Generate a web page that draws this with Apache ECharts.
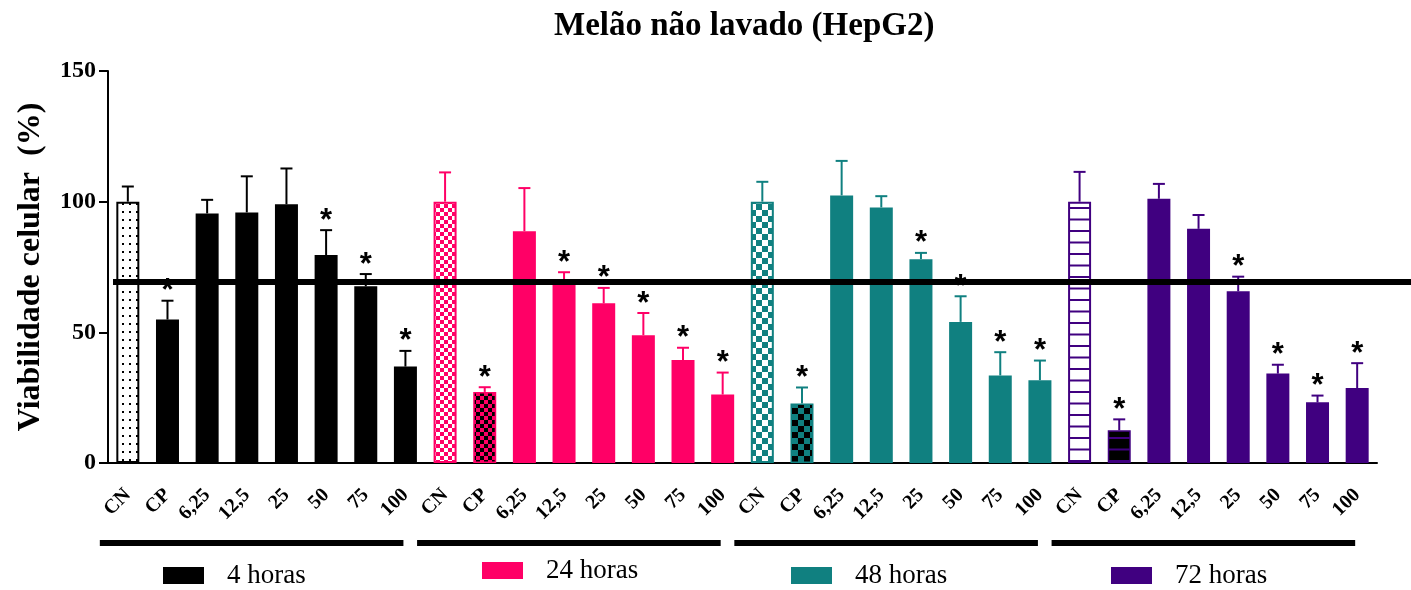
<!DOCTYPE html>
<html>
<head>
<meta charset="utf-8">
<script src="https://cdn.jsdelivr.net/npm/echarts@6/dist/echarts.min.js"></script>
<style>
  html, body { margin: 0; padding: 0; background: #fff; }
  #chart { width: 1411px; height: 590px; }
</style>
</head>
<body>
<div id="chart"></div>
<script>
var categories = ['CN', 'CP', '6,25', '12,5', '25', '50', '75', '100'];
var groups = ['4 horas', '24 horas', '48 horas', '72 horas'];

// mean viability (%) per group
var mean4h  = [100, 54.9, 95.5, 95.9, 99.0, 79.6, 67.6, 36.9];
var mean24h = [100, 27.2, 88.7, 69.5, 61.1, 48.9, 39.4, 26.2];
var mean48h = [100, 22.8, 102.4, 97.8, 78.0, 54.0, 33.5, 31.7];
var mean72h = [100, 12.5, 101.1, 89.6, 65.7, 34.2, 23.2, 28.7];

// upper error (SD)
var sd4h  = [5.8, 7.2, 5.2, 13.8, 13.7, 9.5, 4.7, 6.0];
var sd24h = [11.2, 1.8, 16.5, 3.5, 5.9, 8.5, 4.7, 8.4];
var sd48h = [7.6, 6.1, 13.2, 4.3, 2.4, 9.8, 8.9, 7.5];
var sd72h = [11.4, 4.2, 5.7, 5.3, 5.6, 3.4, 2.6, 9.5];

// significance marks (*)
var sig4h  = [0, 1, 0, 0, 0, 1, 1, 1];
var sig24h = [0, 1, 0, 1, 1, 1, 1, 1];
var sig48h = [0, 1, 0, 0, 1, 1, 1, 1];
var sig72h = [0, 1, 0, 0, 1, 1, 1, 1];

var cutoff = 69.3;

var means = [mean4h, mean24h, mean48h, mean72h];
var sds = [sd4h, sd24h, sd48h, sd72h];
var sigs = [sig4h, sig24h, sig48h, sig72h];
var colors = ['#000000', '#ff0066', '#108080', '#400080'];

function tile(w, h, draw) {
  var c = document.createElement('canvas');
  c.width = w; c.height = h;
  draw(c.getContext('2d'));
  return { image: c, repeat: 'repeat' };
}
function checker(a, b, s) {
  return tile(2 * s, 2 * s, function (ctx) {
    ctx.fillStyle = a; ctx.fillRect(0, 0, 2 * s, 2 * s);
    ctx.fillStyle = b; ctx.fillRect(0, 0, s, s); ctx.fillRect(s, s, s, s);
  });
}
function hlines(bg, fg) {
  return tile(8, 23, function (ctx) {
    ctx.fillStyle = bg; ctx.fillRect(0, 0, 8, 23);
    ctx.fillStyle = fg; ctx.fillRect(0, 0, 8, 2); ctx.fillRect(0, 11.5, 8, 2);
  });
}
var dots = tile(7, 8, function (ctx) {
  ctx.fillStyle = '#fff'; ctx.fillRect(0, 0, 7, 8);
  ctx.fillStyle = '#000'; ctx.fillRect(3, 3, 2, 2);
});

var cnFill = [dots, checker('#ffffff', colors[1], 4), checker('#ffffff', colors[2], 6), hlines('#ffffff', colors[3])];
var cpFill = [colors[0], checker(colors[1], '#000000', 4), checker(colors[2], '#000000', 6), hlines('#000000', colors[3])];

var xLabels = [];
groups.forEach(function () { xLabels = xLabels.concat(categories); });

var barSeries = groups.map(function (name, g) {
  var data = [];
  for (var i = 0; i < xLabels.length; i++) {
    var k = i - g * 8;
    if (k < 0 || k > 7) { data.push('-'); continue; }
    var item = { value: means[g][k] };
    if (k === 0) item.itemStyle = { color: cnFill[g], borderColor: colors[g], borderWidth: 2 };
    if (k === 1) item.itemStyle = { color: cpFill[g], borderColor: colors[g], borderWidth: 1.5 };
    data.push(item);
  }
  return {
    name: name,
    type: 'bar',
    barWidth: 23,
    barGap: '-100%',
    itemStyle: { color: colors[g] },
    data: data
  };
});

var errData = [];
groups.forEach(function (name, g) {
  for (var k = 0; k < 8; k++) {
    errData.push([g * 8 + k, means[g][k] + sds[g][k], means[g][k], g, sigs[g][k]]);
  }
});

function renderErr(params, api) {
  var i = api.value(0), top = api.value(1), mean = api.value(2), g = api.value(3), star = api.value(4);
  var pb = api.coord([i, mean]);
  var pt = api.coord([i, top]);
  var col = colors[g];
  var kids = [
    { type: 'line', shape: { x1: pb[0], y1: pb[1], x2: pt[0], y2: pt[1] }, style: { stroke: col, lineWidth: 2 } },
    { type: 'line', shape: { x1: pt[0] - 6, y1: pt[1], x2: pt[0] + 6, y2: pt[1] }, style: { stroke: col, lineWidth: 2 } }
  ];
  if (star) {
    kids.push({
      type: 'text',
      style: {
        text: '*', x: pt[0], y: pt[1] - 9,
        align: 'center', verticalAlign: 'middle',
        textAlign: 'center', textVerticalAlign: 'middle',
        font: 'bold 31px "Liberation Sans"', fill: '#000'
      }
    });
  }
  return { type: 'group', children: kids };
}

var serif = '"Liberation Serif", "Times New Roman", serif';
var legendLeft = [163, 482, 791, 1111];
var legendTop = [562, 557, 562, 562];

var chart = echarts.init(document.getElementById('chart'));
var option = {
  animation: false,
  backgroundColor: '#fff',
  title: {
    text: 'Melão não lavado (HepG2)',
    left: 549,
    top: 5,
    textStyle: { fontFamily: serif, fontSize: 33, fontWeight: 'bold', color: '#000' }
  },
  legend: groups.map(function (name, g) {
    return {
      data: [name],
      left: legendLeft[g],
      top: legendTop[g],
      padding: 0,
      icon: 'rect',
      itemWidth: 41,
      itemHeight: 17,
      selectedMode: false,
      textStyle: { fontFamily: serif, fontSize: 27, color: '#000', padding: [0, 0, 0, 18] }
    };
  }),
  grid: [
    { left: 108, right: 34, top: 71, bottom: 127, outerBoundsMode: 'none' },
    { left: 113, right: 0, top: 71, bottom: 127, outerBoundsMode: 'none' }
  ],
  xAxis: [
    {
      type: 'category',
      data: xLabels,
      gridIndex: 0,
      axisLine: { lineStyle: { color: '#000', width: 2 } },
      axisTick: { alignWithLabel: true, length: 10, lineStyle: { color: '#000', width: 2 } },
      axisLabel: {
        interval: 0, rotate: 45, margin: 29, color: '#000',
        fontFamily: serif, fontSize: 20, fontWeight: 'bold'
      }
    },
    { type: 'value', gridIndex: 1, min: 0, max: 1, show: false }
  ],
  yAxis: [
    {
      type: 'value',
      gridIndex: 0,
      min: 0, max: 150, interval: 50,
      name: 'Viabilidade celular  (%)',
      nameLocation: 'middle',
      nameGap: 61,
      nameTextStyle: { fontFamily: serif, fontSize: 32, fontWeight: 'bold', color: '#000' },
      axisLine: { show: true, lineStyle: { color: '#000', width: 2 } },
      axisTick: { show: true, length: 9, lineStyle: { color: '#000', width: 2 } },
      axisLabel: { margin: 12, color: '#000', fontFamily: serif, fontSize: 24, fontWeight: 'bold' },
      splitLine: { show: false }
    },
    { type: 'value', gridIndex: 1, min: 0, max: 150, show: false }
  ],
  series: barSeries.concat([
    {
      type: 'custom',
      renderItem: renderErr,
      data: errData,
      encode: { x: 0, y: 1 },
      z: 5,
      silent: true
    },
    {
      type: 'line',
      xAxisIndex: 1,
      yAxisIndex: 1,
      data: [[0, cutoff], [1, cutoff]],
      symbol: 'none',
      lineStyle: { color: '#000', width: 6 },
      z: 10,
      silent: true
    }
  ])
};
chart.setOption(option);

// group brackets under the category labels
var brackets = groups.map(function (name, g) {
  var x1 = chart.convertToPixel({ xAxisIndex: 0 }, g * 8) - 28;
  var x2 = chart.convertToPixel({ xAxisIndex: 0 }, g * 8 + 7) - 2;
  return { type: 'rect', shape: { x: x1, y: 540, width: x2 - x1, height: 6 }, style: { fill: '#000' } };
});
chart.setOption({ graphic: brackets });
</script>
</body>
</html>
